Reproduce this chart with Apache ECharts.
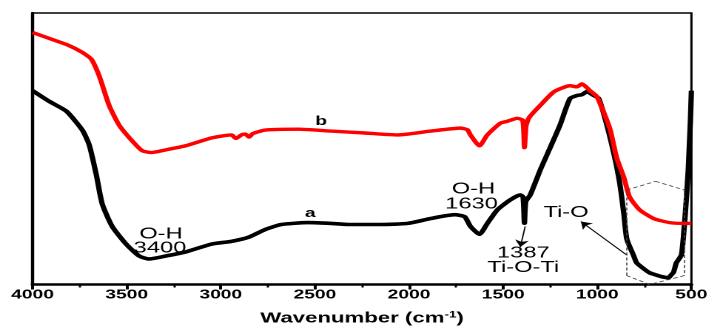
<!DOCTYPE html>
<html>
<head>
<meta charset="utf-8">
<script src="https://cdn.jsdelivr.net/npm/echarts@6/dist/echarts.min.js"></script>
<style>
html,body{margin:0;padding:0;background:#fff;overflow:hidden;}
/* the figure is stretched horizontally, so draw narrow and stretch */
#chart{width:481px;height:331px;transform:scaleX(1.48);transform-origin:0 0;}
</style>
</head>
<body>
<div id="chart"></div>
<script>
// curve a (black)
var waveA = [4000,3910,3820,3736,3699,3662,3630,3577,3503,3434,3381,3292,3186,3048,2943,2853,2763,2678,2535,2414,2324,2150,2007,1885,1758,1705,1674,1626,1584,1531,1462,1409,1394,1387,1380,1356,1304,1267,1198,1145,1108,1082,1055,1018,992,949,907,880,859,843,806,791,753,722,701,659,622,608,595,580,565,553,542,527,516,505,500];
var transA = [71.4,67.4,63.8,56.9,51.4,40.6,29.7,21.4,14.9,10.5,9.4,10.5,12.0,14.9,15.9,17.4,20.3,22.1,22.8,22.5,22.1,22.1,22.5,24.3,25.7,25.0,21.4,18.5,22.5,27.5,31.2,33.0,32.2,22.6,30.5,33.0,42.0,47.8,58.7,68.5,69.6,69.9,71.0,69.6,68.5,58.7,46.7,37.0,26.1,16.7,10.5,8.0,5.8,4.3,3.8,2.9,2.5,3.5,4.5,8.0,9.5,10.9,17.8,31.2,43.1,61.2,71.4];
// curve b (red)
var waveB = [4000,3910,3820,3736,3688,3646,3593,3540,3471,3418,3371,3292,3186,3048,2943,2920,2890,2870,2850,2830,2763,2588,2414,2234,2060,1885,1727,1690,1674,1626,1584,1515,1478,1425,1396,1387,1378,1362,1304,1230,1145,1108,1082,1039,1002,934,897,859,828,775,701,616,527,500];
var transB = [92.8,90.6,88.4,85.5,83.0,76.8,65.9,58.7,52.9,49.3,48.6,49.6,51.1,54.0,55.1,53.8,55.1,55.4,54.3,55.6,56.9,57.2,56.5,55.8,55.1,56.5,57.6,57.0,55.1,51.1,55.1,59.4,60.1,61.2,60.5,50.4,58.5,61.5,65.9,71.0,73.2,72.8,73.9,71.4,69.2,57.6,46.7,39.5,32.2,27.5,24.3,22.8,22.5,22.5];

// annotations
var noteText = ['O-H','3400','a','b','O-H','1630','1387','Ti-O-Ti','Ti-O'];
var notePos = [[3318,18.5],[3323,13.4],[2525,26.1],[2467,60.1],[1658,35.1],[1668,29.7],[1393,11.6],[1393,6.2],[1166,26.4]];
var noteBold = [false,false,true,true,false,false,false,false,false];
var arrows = [[[1383,21.4],[1409,13.8]],[[844,10.9],[1087,23.2]]];
var hexagon = [[844,34.8],[690,38.0],[537,34.8],[537,3.3],[722,0],[844,3.3]];

function pairs(xs, ys){
  var out = [];
  for (var i = 0; i < xs.length; i++) out.push([xs[i], ys[i]]);
  return out;
}

var marks = [];
arrows.forEach(function(a){
  marks.push([{coord:a[0], symbol:'none'},{coord:a[1], symbol:'arrow'}]);
});
for (var i = 0; i < hexagon.length; i++) {
  var p = hexagon[i], q = hexagon[(i+1) % hexagon.length];
  marks.push([{coord:p, symbol:'none', lineStyle:{type:[3,2], width:0.8, color:'#444'}},{coord:q, symbol:'none'}]);
}

var option = {
  animation: false,
  grid: {left:22, right:11.4, top:13, bottom:42, show:true, borderColor:'#000', borderWidth:1.5},
  xAxis: {
    type:'value', inverse:true, min:500, max:4000, interval:500,
    name:'Wavenumber (cm{sup|-1})', nameLocation:'middle', nameGap:26,
    nameTextStyle:{fontFamily:'Liberation Sans', fontWeight:'bold', fontSize:15, color:'#000',
      rich:{sup:{fontFamily:'Liberation Sans', fontWeight:'bold', fontSize:9, color:'#000', padding:[0,0,7,0]}}},
    axisLine:{show:true, lineStyle:{color:'#000', width:2.6}},
    axisTick:{show:true, length:5, lineStyle:{color:'#000', width:2}},
    minorTick:{show:true, splitNumber:2, length:3, lineStyle:{color:'#000', width:1.5}},
    splitLine:{show:false},
    axisLabel:{color:'#000', fontFamily:'Liberation Sans', fontWeight:'bold', fontSize:13, margin:4,
      showMinLabel:true, showMaxLabel:true, formatter:function(v){ return String(v); }}
  },
  yAxis: {
    type:'value', min:0, max:100,
    axisLine:{show:true, lineStyle:{color:'#000', width:2.2}},
    axisTick:{show:false}, axisLabel:{show:false}, splitLine:{show:false}
  },
  series: [
    {name:'a', type:'line', data:pairs(waveA, transA), showSymbol:false, smooth:0.2,
     lineStyle:{color:'#000', width:3.6}, z:2,
     markLine:{silent:true, symbolSize:7, label:{show:false}, lineStyle:{color:'#000', width:0.9, type:'solid'}, data:marks}},
    {name:'b', type:'line', data:pairs(waveB, transB), showSymbol:false, smooth:0.2,
     lineStyle:{color:'#ff0000', width:3.4}, z:3}
  ]
};

var chart = echarts.init(document.getElementById('chart'), null, {devicePixelRatio:2});
chart.setOption(option);

var texts = noteText.map(function(t, i){
  var px = chart.convertToPixel({gridIndex:0}, notePos[i]);
  return {
    type:'text', x:px[0], y:px[1], z:10,
    style:{text:t, fill:'#000', fontFamily:'Liberation Sans', fontSize: noteBold[i] ? 13 : 16,
      fontWeight: noteBold[i] ? 'bold' : 'normal', align:'center', verticalAlign:'middle'}
  };
});
chart.setOption({graphic: texts});
</script>
</body>
</html>
